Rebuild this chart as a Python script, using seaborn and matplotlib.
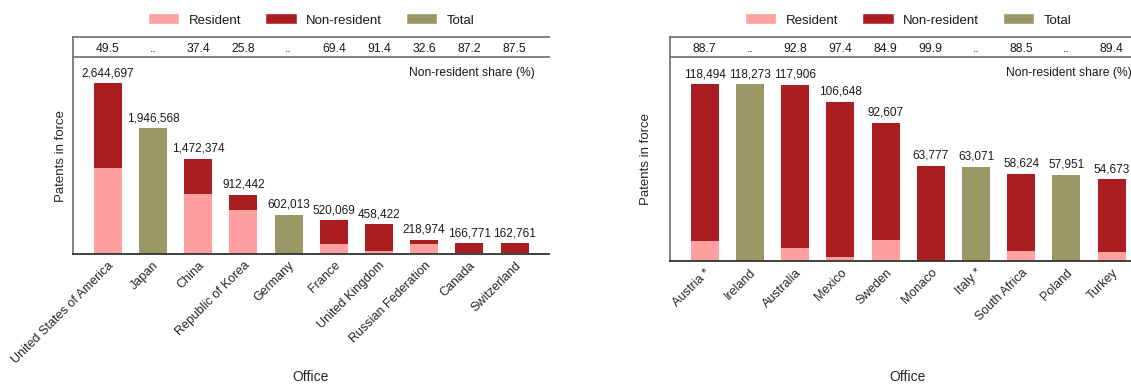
import numpy as np
import pandas as pd
import matplotlib
matplotlib.use('Agg')
import matplotlib.pyplot as plt
import seaborn as sns
from matplotlib.patches import Patch

# Left panel: top 10 offices
offices_top = ['United States of America', 'Japan', 'China', 'Republic of Korea', 'Germany',
               'France', 'United Kingdom', 'Russian Federation', 'Canada', 'Switzerland']
total_top = [2644697, 1946568, 1472374, 912442, 602013, 520069, 458422, 218974, 166771, 162761]
share_top = [49.5, None, 37.4, 25.8, None, 69.4, 91.4, 32.6, 87.2, 87.5]

# Right panel: next 10 offices
offices_next = ['Austria *', 'Ireland', 'Australia', 'Mexico', 'Sweden',
                'Monaco', 'Italy *', 'South Africa', 'Poland', 'Turkey']
total_next = [118494, 118273, 117906, 106648, 92607, 63777, 63071, 58624, 57951, 54673]
share_next = [88.7, None, 92.8, 97.4, 84.9, 99.9, None, 88.5, None, 89.4]

RES = '#FFA0A0'
NONRES = '#AA1E22'
TOT = '#9A9966'

sns.set_theme(style='white')
plt.rcParams['font.family'] = ['Liberation Sans', 'DejaVu Sans']
plt.rcParams['text.color'] = '#1a1a1a'

H = 387.0


def build_frame(offices, totals, shares):
    df = pd.DataFrame({'office': offices, 'total': totals, 'share': shares})
    df['kind'] = np.where(df['share'].isna(), 'Total', 'Non-resident')
    df['resident'] = df['total'] * (100 - df['share']) / 100
    return df


def draw_panel(fig, left_px, bottom_px, df, ymax, ylabel_pad):
    width = 476 / 1131
    height = (bottom_px - 57) / H
    left = left_px / 1131
    bottom = 1 - bottom_px / H
    ax = fig.add_axes([left, bottom, width, height])
    strip = fig.add_axes([left, bottom + height, width, 20 / H])

    sns.barplot(data=df, x='office', y='total', hue='kind',
                palette={'Non-resident': NONRES, 'Total': TOT},
                dodge=False, width=0.62, saturation=1, errorbar=None,
                legend=False, linewidth=0, ax=ax)
    sns.barplot(data=df, x='office', y='resident', color=RES,
                width=0.62, saturation=1, errorbar=None, linewidth=0, ax=ax)

    for i, v in enumerate(df['total']):
        ax.annotate(f'{v:,}', (i, v), xytext=(0, 3), textcoords='offset points',
                    ha='center', va='bottom', fontsize=8.5)

    ax.set_xlim(-0.77, 9.76)
    ax.set_ylim(0, ymax)
    ax.set_yticks([])
    ax.tick_params(axis='x', length=0, pad=4)
    plt.setp(ax.get_xticklabels(), rotation=45, ha='right',
             rotation_mode='anchor', fontsize=9)
    ax.set_xlabel('Office', fontsize=10)
    ax.xaxis.set_label_coords(0.5, (bottom_px - 370) / (bottom_px - 57))
    ax.set_ylabel('Patents in force', fontsize=9.5, labelpad=ylabel_pad)
    for side in ['top', 'right']:
        ax.spines[side].set_visible(False)
    ax.spines['left'].set_color('#777777')
    ax.spines['bottom'].set_color('#333333')
    ax.spines['left'].set_linewidth(1.3)
    ax.spines['bottom'].set_linewidth(1.3)

    ax.annotate('Non-resident share (%)', xy=(0.97, 1), xycoords='axes fraction',
                xytext=(0, -16), textcoords='offset pixels',
                ha='right', va='center', fontsize=8.7)

    # share strip above plot
    strip.set_xlim(-0.77, 9.76)
    strip.set_ylim(0, 1)
    for i, s in enumerate(df['share']):
        txt = '..' if pd.isna(s) else f'{s:.1f}'
        strip.text(i, 0.42, txt, ha='center', va='center', fontsize=8.7)
    strip.set_xticks([])
    strip.set_yticks([])
    strip.spines['right'].set_visible(False)
    for side in ['top', 'left', 'bottom']:
        strip.spines[side].set_color('#777777')
        strip.spines[side].set_linewidth(1.3)

    handles = [Patch(facecolor=RES, label='Resident'),
               Patch(facecolor=NONRES, label='Non-resident'),
               Patch(facecolor=TOT, label='Total')]
    legend_x = (left_px + 238) / 1131
    fig.legend(handles=handles, loc='center', bbox_to_anchor=(legend_x, 1 - 20 / H),
               ncol=3, frameon=False, fontsize=9.5, handlelength=2.4,
               handleheight=0.9, handletextpad=0.7, columnspacing=1.8)
    return ax


fig = plt.figure(figsize=(11.31, 3.87), dpi=100)

df_top = build_frame(offices_top, total_top, share_top)
df_next = build_frame(offices_next, total_next, share_next)

draw_panel(fig, 73, 254, df_top, 3.05e6, 4)
draw_panel(fig, 670, 261, df_next, 136700, 13)

fig.savefig('out.png', dpi=100)
